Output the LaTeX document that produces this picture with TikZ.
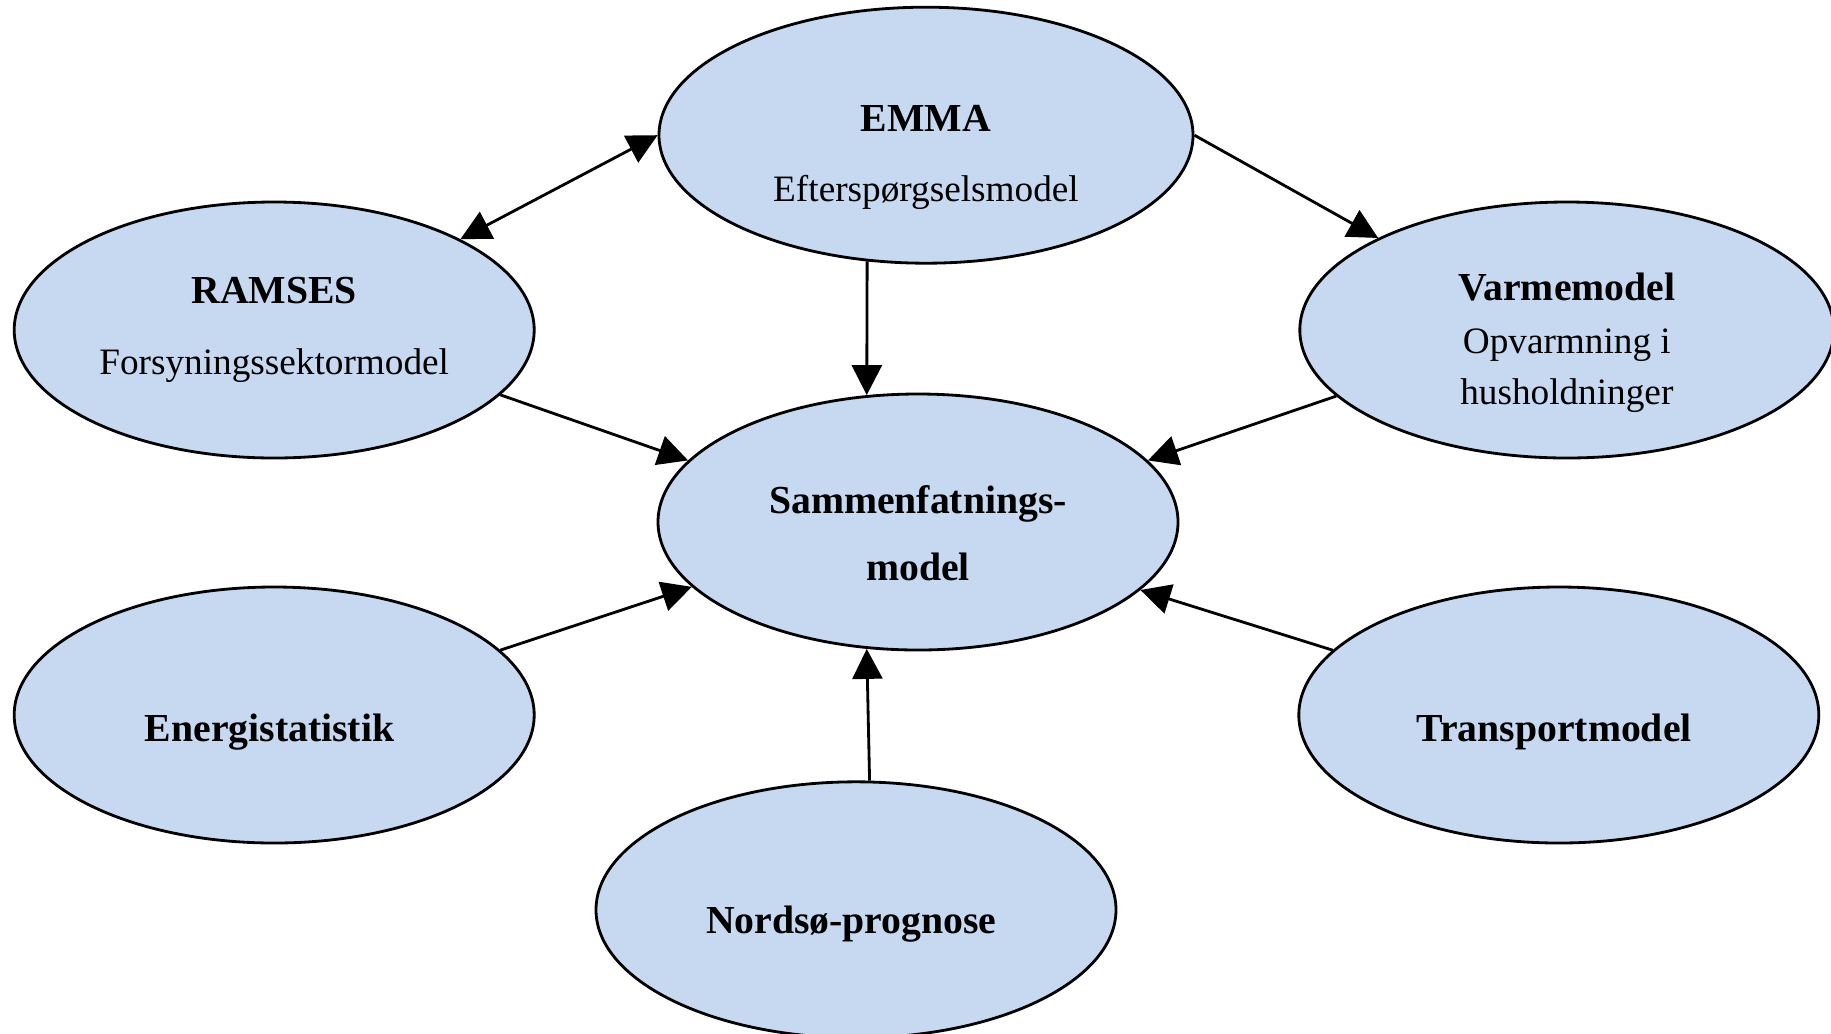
\documentclass[tikz,border=0pt]{standalone}
\usepackage{fontspec}
\setmainfont{Liberation Serif}
\usepackage{tikz}
\usetikzlibrary{positioning,arrows.meta,shapes.geometric}
\definecolor{modelblue}{HTML}{C6D9F1}
% bold first line, strut pushes the text a bit down in the ellipse
\newcommand{\mtitle}[2][16pt]{\rule{0pt}{#1}\textbf{\fontsize{11.3}{13.5}\selectfont #2}}

\begin{document}
\begin{tikzpicture}[
      >={Triangle[length=0.3cm,width=0.3cm]},
      auto
    ]

    \tikzstyle{model} = [ellipse, minimum width=5.2cm, minimum height=2.56cm, inner sep=0pt, align=center, draw=black, thick, fill=modelblue, font=\fontsize{10.6}{13}\selectfont]

    \tikzstyle{arrow} = [thick,->]

    \useasboundingbox (0,0) rectangle (18.31,-10.33);

    \node [model] (samm) at (9.18,-5.22) {
    	\mtitle[14.5pt]{Sammenfatnings-}\\[6pt]
    	\textbf{\fontsize{11.3}{13.5}\selectfont model}
        };
    \node [model, minimum width=5.34cm] (emma) [node distance=1.28cm, above=of samm, xshift=0.08cm] {
    	\mtitle[20pt]{EMMA}\\[7pt]
    	Efterspørgselsmodel
        };
    \node [model] (ramses) [node distance=1.21cm, left=of samm, yshift=1.92cm] {
    	\mtitle[0pt]{RAMSES}\\[7pt]
    	Forsyningssektormodel
        };
    \node [model, minimum width=5.34cm] (varme) [node distance=1.19cm, right=of samm, yshift=1.92cm] {
    	\mtitle[15pt]{Varmemodel}\\[2pt]
    	Opvarmning i\\[1.5pt]
    	husholdninger
        };
    \node [model] (energi) [node distance=1.21cm, left=of samm, yshift=-1.93cm] {
    	\mtitle[17.5pt]{Energistatistik}
        };
    \node [model] (transport) [node distance=1.18cm, right=of samm, yshift=-1.93cm] {
    	\mtitle[17.5pt]{Transportmodel}
        };
    \node [model] (nordso) [node distance=1.29cm, below=of samm, xshift=-0.62cm] {
    	\mtitle[16pt]{Nordsø-prognose}
        };

    \draw [arrow, <->] (ramses.26) -- (emma.west);
    \draw [arrow] (emma.east) -- (varme.154);
    \draw [arrow] (emma.245) -- (samm.112);
    \draw [arrow] (ramses.344) -- (samm.165);
    \draw [arrow] (varme.196) -- (samm.15);
    \draw [arrow] (energi.16) -- (samm.196);
    \draw [arrow] (transport.164) -- (samm.343);
    \draw [arrow] (nordso.84) -- (samm.248);

\end{tikzpicture}
\end{document}
